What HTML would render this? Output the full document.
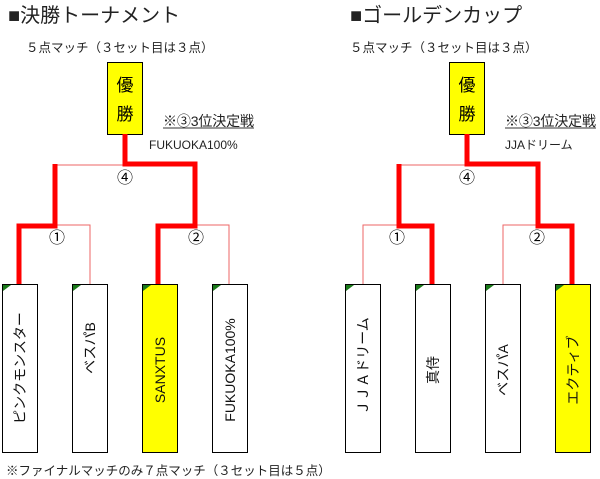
<!DOCTYPE html>
<html><head><meta charset="utf-8"><style>
html,body{margin:0;padding:0;background:#fff;}
svg{display:block;font-family:"Liberation Sans","Noto Sans CJK JP",sans-serif;}
</style></head><body>
<svg width="600" height="479" viewBox="0 0 600 479" xmlns="http://www.w3.org/2000/svg">
<rect width="600" height="479" fill="#fff"/>
<!-- LEFT -->
<text x="8" y="22" font-size="20" fill="#222">■決勝トーナメント</text>
<text x="26" y="52" font-size="12.5" fill="#222">５点マッチ（３セット目は３点）</text>
<rect x="107.5" y="62.5" width="35" height="72" fill="#ff0" stroke="#000"/>
<text x="125" y="91" font-size="17" text-anchor="middle">優</text>
<text x="125" y="120" font-size="17" text-anchor="middle">勝</text>
<text x="163" y="126" font-size="14" fill="#222" textLength="91">※③3位決定戦</text>
<line x1="163" y1="128" x2="254" y2="128" stroke="#333" stroke-width="1"/>
<text x="149" y="149" font-size="12" fill="#222">FUKUOKA100%</text>
<g fill="none" stroke-linejoin="miter">
<path d="M55 165 H125" stroke="#e66" stroke-width="1"/>
<path d="M19 225 H90 V284" stroke="#e66" stroke-width="1"/>
<path d="M158 225 H229 V284" stroke="#e66" stroke-width="1"/>
<path d="M125 134 V164 H195 V226 H158 V284" stroke="#f00" stroke-width="5"/>
<path d="M55 164 V226 H19 V284" stroke="#f00" stroke-width="5"/>
</g>
<text x="125" y="183" font-size="16" text-anchor="middle">④</text>
<text x="57" y="243" font-size="16" text-anchor="middle">①</text>
<text x="196" y="243" font-size="16" text-anchor="middle">②</text>
<!-- RIGHT -->
<text x="350" y="22" font-size="20" fill="#222">■ゴールデンカップ</text>
<text x="350" y="52" font-size="12.5" fill="#222">５点マッチ（３セット目は３点）</text>
<rect x="449.5" y="62.5" width="35" height="72" fill="#ff0" stroke="#000"/>
<text x="467" y="91" font-size="17" text-anchor="middle">優</text>
<text x="467" y="120" font-size="17" text-anchor="middle">勝</text>
<text x="505" y="126" font-size="14" fill="#222" textLength="91">※③3位決定戦</text>
<line x1="505" y1="128" x2="596" y2="128" stroke="#333" stroke-width="1"/>
<text x="505" y="149" font-size="12" fill="#222">JJAドリーム</text>
<g fill="none">
<path d="M398 165 H467" stroke="#e66" stroke-width="1"/>
<path d="M363 284 V225 H432" stroke="#e66" stroke-width="1"/>
<path d="M503 284 V225 H572" stroke="#e66" stroke-width="1"/>
<path d="M467 134 V164 H538 V226 H572 V284" stroke="#f00" stroke-width="5"/>
<path d="M399 164 V226 H432 V284" stroke="#f00" stroke-width="5"/>
</g>
<text x="467" y="183" font-size="16" text-anchor="middle">④</text>
<text x="397" y="243" font-size="16" text-anchor="middle">①</text>
<text x="537" y="243" font-size="16" text-anchor="middle">②</text>
<!-- boxes -->
<g stroke="#000" stroke-width="1">
<rect x="2.5" y="284.5" width="35" height="168" fill="#fff"/>
<rect x="72.5" y="284.5" width="35" height="168" fill="#fff"/>
<rect x="142.5" y="284.5" width="35" height="168" fill="#ff0"/>
<rect x="212.5" y="284.5" width="35" height="168" fill="#fff"/>
<rect x="345.5" y="284.5" width="35" height="168" fill="#fff"/>
<rect x="415.5" y="284.5" width="35" height="168" fill="#fff"/>
<rect x="485.5" y="284.5" width="35" height="168" fill="#fff"/>
<rect x="555.5" y="284.5" width="35" height="168" fill="#ff0"/>
</g>
<g fill="#1a7a1a">
<polygon points="3,285 11,285 3,291"/><polygon points="73,285 81,285 73,291"/>
<polygon points="143,285 151,285 143,291"/><polygon points="213,285 221,285 213,291"/>
<polygon points="346,285 354,285 346,291"/><polygon points="416,285 424,285 416,291"/>
<polygon points="486,285 494,285 486,291"/><polygon points="556,285 564,285 556,291"/>
</g>
<g font-size="14" fill="#111" text-anchor="middle">
<text transform="translate(25,368) rotate(-90)">ピンクモンスター</text>
<text transform="translate(95,348) rotate(-90)">ベスパB</text>
<text transform="translate(165,370) rotate(-90)">SANXTUS</text>
<text transform="translate(235,370) rotate(-90)">FUKUOKA100%</text>
<text transform="translate(368,366) rotate(-90)">ＪＪＡドリーム</text>
<text transform="translate(438,370) rotate(-90)">真侍</text>
<text transform="translate(508,370) rotate(-90)">ベスパA</text>
<text transform="translate(578,370) rotate(-90)">エクティブ</text>
</g>
<text x="6" y="475" font-size="12.5" fill="#222">※ファイナルマッチのみ７点マッチ（３セット目は５点）</text>
</svg>
</body></html>
